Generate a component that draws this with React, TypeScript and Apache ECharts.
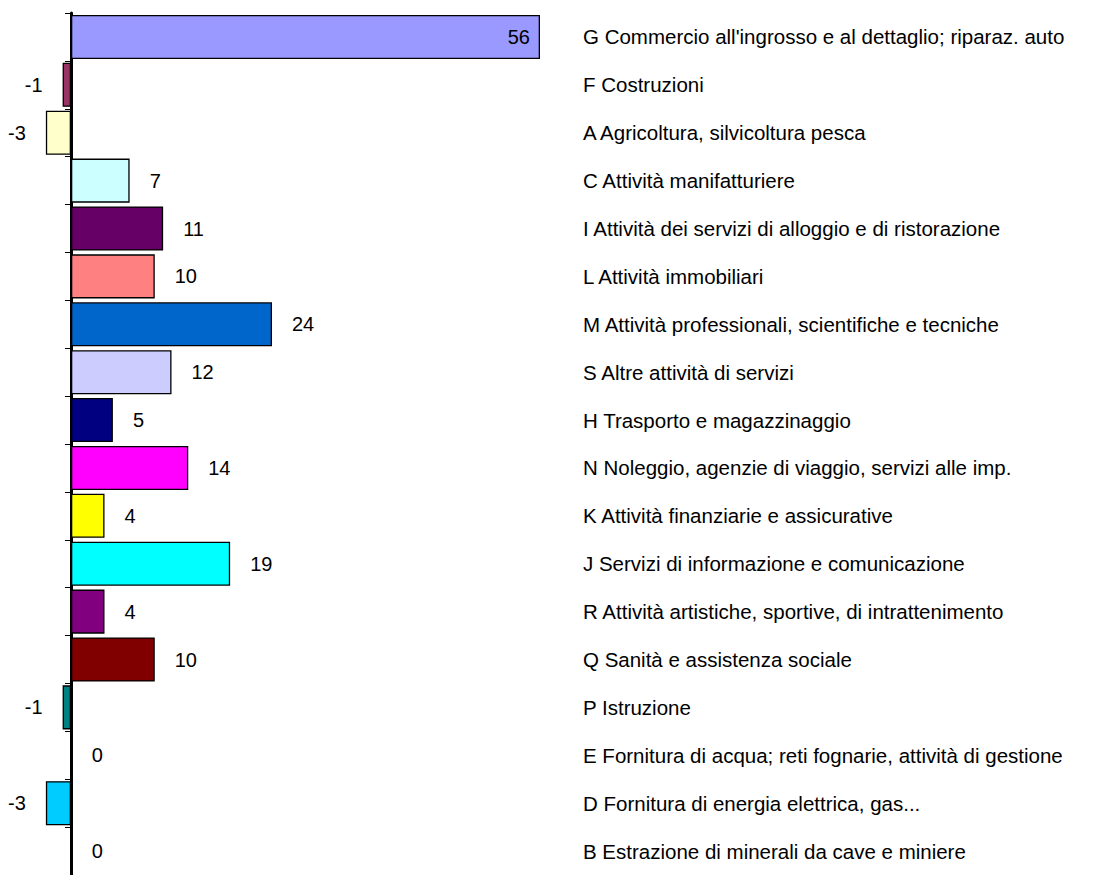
import React, { useEffect, useRef } from "react";
import * as echarts from "echarts";

const categories = [
  "G Commercio all'ingrosso e al dettaglio; riparaz. auto",
  "F Costruzioni",
  "A Agricoltura, silvicoltura pesca",
  "C Attività manifatturiere",
  "I Attività dei servizi di alloggio e di ristorazione",
  "L Attività immobiliari",
  "M Attività professionali, scientifiche e tecniche",
  "S Altre attività di servizi",
  "H Trasporto e magazzinaggio",
  "N Noleggio, agenzie di viaggio, servizi alle imp.",
  "K Attività finanziarie e assicurative",
  "J Servizi di informazione e comunicazione",
  "R Attività artistiche, sportive, di intrattenimento",
  "Q Sanità e assistenza sociale",
  "P Istruzione",
  "E Fornitura di acqua; reti fognarie, attività di gestione",
  "D Fornitura di energia elettrica, gas...",
  "B Estrazione di minerali da cave e miniere",
];

const values = [56, -1, -3, 7, 11, 10, 24, 12, 5, 14, 4, 19, 4, 10, -1, 0, -3, 0];

const colors = [
  "#9999FF", "#993366", "#FFFFCC", "#CCFFFF", "#660066", "#FF8080",
  "#0066CC", "#CCCCFF", "#000080", "#FF00FF", "#FFFF00", "#00FFFF",
  "#800080", "#800000", "#008080", "#0000FF", "#00CCFF", "#FF0000",
];

const FONT = "'Liberation Sans', Arial, sans-serif";

export default function App() {
  const ref = useRef<HTMLDivElement>(null);
  useEffect(() => {
    document.body.style.margin = "0";
    const chart = echarts.init(ref.current!, null, { renderer: "svg" });
    const maxV = 56;
    const zeroX = 71;
    const endX = 540;
    const minV = -zeroX * maxV / (endX - zeroX);
    chart.setOption({
      animation: false,
      grid: { left: 0, right: 1096 - endX, top: 13, bottom: -2, containLabel: false },
      xAxis: {
        type: "value",
        min: minV,
        max: maxV,
        show: false,
        splitLine: { show: false },
      },
      yAxis: [
        {
          type: "category",
          data: categories,
          inverse: true,
          position: "left",
          axisLine: { show: true, onZero: true, lineStyle: { color: "#000", width: 3 } },
          axisTick: { show: true, length: 6, lineStyle: { color: "#000", width: 1 } },
          axisLabel: { show: false },
        },
        {
          type: "category",
          data: categories,
          inverse: true,
          position: "right",
          axisLine: { show: false },
          axisTick: { show: false },
          axisLabel: {
            show: true,
            align: "left",
            margin: 583 - endX,
            color: "#000",
            fontFamily: FONT,
            fontSize: 20.5,
          },
        },
      ],
      series: [
        {
          type: "bar",
          yAxisIndex: 0,
          barCategoryGap: "8%",
          data: values.map((v, i) => ({
            value: v,
            itemStyle: { color: colors[i], borderColor: "#000", borderWidth: 1.3 },
            label: {
              show: true,
              position: i === 0 ? "insideRight" : v < 0 ? "left" : "right",
              distance: i === 0 ? 10 : 20,
              color: "#000",
              fontFamily: FONT,
              fontSize: 20,
            },
          })),
        },
      ],
    });
    return () => chart.dispose();
  }, []);
  return <div ref={ref} style={{ width: 1096, height: 875 }} />;
}
